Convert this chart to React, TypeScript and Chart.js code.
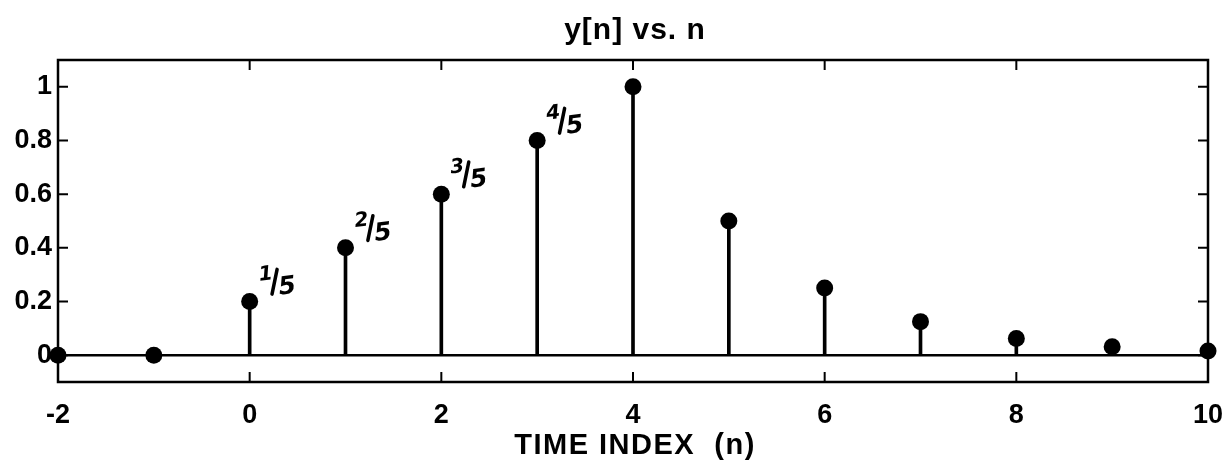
import React, { useEffect, useRef } from "react";
import { Chart, registerables } from "chart.js";

Chart.register(...registerables);

const nValues = [-2, -1, 0, 1, 2, 3, 4, 5, 6, 7, 8, 9, 10];
const yValues = [0, 0, 0.2, 0.4, 0.6, 0.8, 1, 0.5, 0.25, 0.125, 0.0625, 0.03125, 0.015625];
const annotationIndex = [0, 1, 2, 3];
const annotationNum = ["1", "2", "3", "4"];
const annotationDen = ["5", "5", "5", "5"];
const yTicks = [0, 0.2, 0.4, 0.6, 0.8, 1];
const xTicks = [-2, 0, 2, 4, 6, 8, 10];
const titleText = "y[n] vs. n";
const xLabelText = "TIME INDEX  (n)";

const framePlugin = {
  id: "frame",
  afterDatasetsDraw(chart: any) {
    const { ctx, chartArea, scales } = chart;
    const { left, right, top, bottom } = chartArea;
    ctx.save();
    ctx.strokeStyle = "#000";
    ctx.lineWidth = 2.5;
    ctx.beginPath();
    ctx.rect(left, top, right - left, bottom - top);
    ctx.stroke();
    ctx.lineWidth = 2;
    const tl = 10;
    ctx.beginPath();
    xTicks.forEach((v) => {
      const px = scales.x.getPixelForValue(v);
      ctx.moveTo(px, bottom);
      ctx.lineTo(px, bottom - tl);
      ctx.moveTo(px, top);
      ctx.lineTo(px, top + tl);
    });
    yTicks.forEach((v) => {
      const py = scales.y.getPixelForValue(v);
      ctx.moveTo(left, py);
      ctx.lineTo(left + tl, py);
      ctx.moveTo(right, py);
      ctx.lineTo(right - tl, py);
    });
    ctx.stroke();
    ctx.restore();
  },
  afterDraw(chart: any) {
    const { ctx, chartArea, scales } = chart;
    const cx = (chartArea.left + chartArea.right) / 2;
    ctx.save();
    ctx.fillStyle = "#000";
    ctx.textAlign = "center";
    ctx.textBaseline = "alphabetic";
    ctx.font = "bold 30px 'Liberation Sans', Arial, sans-serif";
    (ctx as any).letterSpacing = "1px";
    ctx.fillText(titleText, cx + 2, 39);
    ctx.font = "bold 29px 'Liberation Sans', Arial, sans-serif";
    (ctx as any).letterSpacing = "1.5px";
    ctx.fillText(xLabelText, cx + 2, 454);
    (ctx as any).letterSpacing = "0px";

    // handwritten fraction annotations
    annotationIndex.forEach((idx, i) => {
      const px = scales.x.getPixelForValue(nValues[idx + 2]);
      const py = scales.y.getPixelForValue(yValues[idx + 2]);
      ctx.save();
      ctx.translate(px + 27, py - 19);
      ctx.rotate(-0.12);
      ctx.lineWidth = 3.5;
      ctx.lineCap = "round";
      ctx.strokeStyle = "#000";
      ctx.font = "bold italic 20px 'DejaVu Sans', sans-serif";
      ctx.textAlign = "center";
      ctx.textBaseline = "middle";
      ctx.fillText(annotationNum[i], -10, -9);
      ctx.beginPath();
      ctx.moveTo(2, -13);
      ctx.lineTo(-6, 11);
      ctx.stroke();
      ctx.font = "bold italic 25px 'DejaVu Sans', sans-serif";
      ctx.fillText(annotationDen[i], 10, 6);
      ctx.restore();
    });
    ctx.restore();
  },
};

export default function App() {
  const ref = useRef<HTMLCanvasElement | null>(null);
  useEffect(() => {
    if (!ref.current) return;
    const pts = nValues.map((n, i) => ({ x: n, y: yValues[i] }));
    const chart = new Chart(ref.current, {
      type: "bar",
      data: {
        datasets: [
          {
            type: "line",
            data: [
              { x: nValues[0], y: 0 },
              { x: nValues[nValues.length - 1], y: 0 },
            ],
            borderColor: "#000",
            borderWidth: 2.5,
            pointRadius: 0,
            order: 3,
          } as any,
          {
            type: "bar",
            data: pts,
            backgroundColor: "#000",
            barThickness: 3,
            order: 2,
          } as any,
          {
            type: "scatter",
            data: pts,
            backgroundColor: "#000",
            borderColor: "#000",
            pointRadius: 8.5,
            borderWidth: 0,
            clip: false,
            order: 1,
          } as any,
        ],
      },
      options: {
        animation: false,
        responsive: false,
        maintainAspectRatio: false,
        events: [],
        layout: { padding: { top: 60, right: 17, left: 0, bottom: 0 } },
        plugins: {
          legend: { display: false },
          tooltip: { enabled: false },
          title: { display: false },
        },
        scales: {
          x: {
            type: "linear",
            min: -2,
            max: 10,
            offset: false,
            grid: { display: false, drawTicks: false },
            border: { display: false },
            afterFit: (s: any) => {
              s.height = 88;
              s.paddingLeft = 0;
              s.paddingRight = 0;
            },
            afterBuildTicks: (s: any) => {
              s.ticks = xTicks.map((v) => ({ value: v }));
            },
            ticks: {
              padding: 17,
              color: "#000",
              font: { family: "'Liberation Sans', Arial, sans-serif", size: 27, weight: "bold" },
              maxRotation: 0,
              autoSkip: false,
            },
          },
          y: {
            type: "linear",
            min: -0.1,
            max: 1.1,
            grid: { display: false, drawTicks: false },
            border: { display: false },
            afterFit: (s: any) => {
              s.width = 58;
              s.paddingTop = 0;
              s.paddingBottom = 0;
            },
            afterBuildTicks: (s: any) => {
              s.ticks = yTicks.map((v) => ({ value: v }));
            },
            ticks: {
              padding: 6,
              color: "#000",
              font: { family: "'Liberation Sans', Arial, sans-serif", size: 27, weight: "bold" },
              callback: (v: any) => String(Math.round(v * 10) / 10),
            },
          },
        },
      },
      plugins: [framePlugin],
    });
    return () => chart.destroy();
  }, []);
  return (
    <div style={{ position: "fixed", left: 0, top: 0, width: 1225, height: 470, background: "#fff" }}>
      <canvas ref={ref} width={1225} height={470} style={{ width: 1225, height: 470 }} />
    </div>
  );
}
